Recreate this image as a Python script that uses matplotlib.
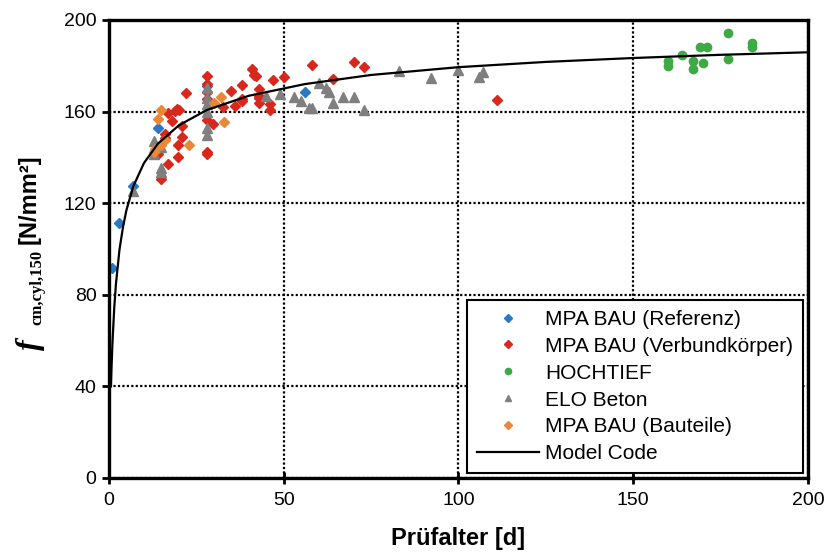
import matplotlib
matplotlib.use('Agg')
import matplotlib.pyplot as plt

plt.rcParams['font.family'] = ['Liberation Sans', 'DejaVu Sans']

# -------- MPA BAU (Referenz) --------
ref_t = [1, 3, 7, 14, 28, 56]
ref_v = [91.5, 111.5, 127.5, 153, 171, 168.5]

# -------- MPA BAU (Verbundkoerper) --------
verb_t = [14, 15, 16, 16, 17, 17, 18, 19, 19.6, 20, 19.8, 19.8, 20.8, 20.8, 21.9,
          28, 28, 28, 28, 28, 28, 28,
          29.8, 32.5, 35, 36, 38, 38, 38, 40.8, 41.5, 42, 43, 43, 43, 43,
          46, 46, 47, 50, 58, 64, 70, 73, 111]
verb_v = [141.5, 130.5, 150, 148.3, 137, 159.2, 155.8, 160.3, 161, 160.5, 140, 145.2, 148.8, 153.7, 168,
          175.7, 172.2, 168.7, 165.4, 156.5, 142.5, 141.5,
          154.7, 162.2, 169, 162.3, 171.4, 165.5, 164.8, 178.5, 176, 175.4, 170, 166.8, 165.8, 163.6,
          163.5, 160.7, 173.8, 175.3, 180.3, 174.3, 181.6, 179.6, 165]

# -------- HOCHTIEF --------
hoch_t = [160, 160, 164, 167, 167, 169, 171, 170, 177, 177, 184, 184]
hoch_v = [182, 180, 184.7, 182.3, 178.6, 188, 188, 181.2, 194.5, 183, 190, 188.2]

# -------- ELO Beton --------
elo_t = [7, 13, 13, 15, 15, 15,
         28, 28, 28, 28, 28, 28,
         45, 49, 53, 55, 57.3, 58.2, 60, 62, 63, 64, 67, 70, 73,
         83, 92, 100, 106, 107]
elo_v = [125.5, 147, 141.5, 135.5, 133.5, 144.5,
         170.2, 166, 163.2, 160, 152.7, 149.8,
         166.8, 167.7, 166.2, 164.8, 161.4, 161.4, 172.4, 170.5, 168.4, 163.9, 166.2, 166.2, 160.7,
         177.6, 174.6, 178, 175.3, 177.4]

# -------- MPA BAU (Bauteile) --------
baut_t = [13, 13.3, 14, 15, 15, 16, 23, 30, 32, 33]
baut_v = [142.5, 143.5, 156.7, 160.6, 145.5, 147.5, 145.4, 163.9, 166.5, 155.6]

# -------- Model Code --------
mc_t = [0.58, 0.75, 1, 1.5, 2, 3, 4, 5, 7, 10, 14, 20, 28, 40, 56, 75, 100, 125, 150, 175, 200]
mc_v = [40, 48.9, 59.1, 74.1, 84.8, 99.6, 109.5, 117, 127.5, 137.5, 146, 154, 160.7,
        166.9, 172, 176, 179.4, 181.7, 183.4, 184.8, 185.9]


def main():
    W, H = 828, 554
    fig = plt.figure(figsize=(W / 100, H / 100), dpi=100)
    ax = fig.add_axes([0.1316, 0.1372, 0.8442, 0.8267])

    ax.plot(ref_t, ref_v, 'D', color='#2a78c8', ms=5, mec='#2a78c8', label='MPA BAU (Referenz)')
    ax.plot(verb_t, verb_v, 'D', color='#d7281e', ms=5, mec='#d7281e', label='MPA BAU (Verbundkörper)')
    ax.plot(hoch_t, hoch_v, 'o', color='#3daa45', ms=6, mec='#3daa45', label='HOCHTIEF')
    ax.plot(elo_t, elo_v, '^', color='#7f7f7f', ms=6.5, mec='#7f7f7f', label='ELO Beton')
    ax.plot(baut_t, baut_v, 'D', color='#e8893a', ms=5, mec='#e8893a', label='MPA BAU (Bauteile)')
    ax.plot(mc_t, mc_v, '-', color='black', lw=1.6, label='Model Code')

    ax.set_xlim(0, 200)
    ax.set_ylim(0, 200)
    ax.set_xticks([0, 50, 100, 150, 200])
    ax.set_yticks([0, 40, 80, 120, 160, 200])
    ax.grid(True, color='black', linestyle=(0, (1, 1)), linewidth=1.6)
    ax.set_axisbelow(True)

    for s in ax.spines.values():
        s.set_linewidth(2.4)
    ax.tick_params(axis='y', direction='out', length=5, width=2, labelsize=14, pad=4)
    ax.tick_params(axis='x', direction='inout', length=8, width=2, labelsize=14, pad=6)

    ax.set_xlabel('Prüfalter [d]', fontsize=17, fontweight='bold', labelpad=13)

    # y label: italic f, small serif subscript, unit in sans
    kw = dict(rotation=90, rotation_mode='anchor', ha='left', va='baseline')
    fig.text(38 / W, 1 - 350 / H, 'f', fontsize=23, family='Liberation Serif',
             style='italic', weight='bold', **kw)
    fig.text(41 / W, 1 - 325 / H, 'cm,cyl,150', fontsize=12, family='Liberation Serif',
             weight='bold', **kw)
    fig.text(36 / W, 1 - 244 / H, '[N/mm²]', fontsize=17, weight='bold', **kw)

    leg = ax.legend(loc='lower right', fontsize=15, frameon=True, fancybox=False,
                    edgecolor='black', borderaxespad=0.25, handlelength=3.0,
                    handletextpad=0.3, labelspacing=0.38, borderpad=0.45, markerscale=0.75)
    leg.get_frame().set_linewidth(1.5)
    leg.get_frame().set_alpha(1)

    fig.savefig('out.png', dpi=100)


if __name__ == '__main__':
    main()
